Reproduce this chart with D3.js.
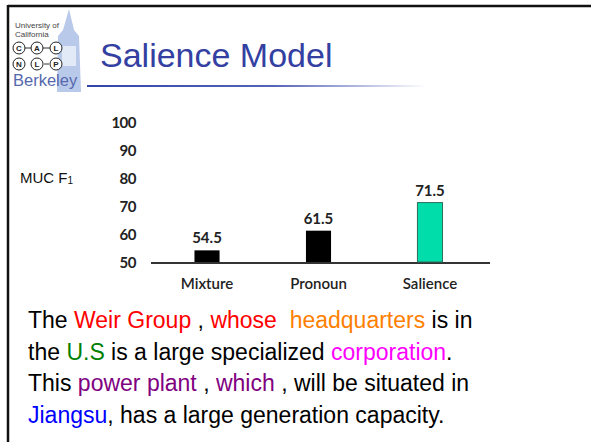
<!DOCTYPE html>
<html>
<head>
<meta charset="utf-8">
<script src="https://cdn.jsdelivr.net/npm/d3@7"></script>
<style>
  body { margin: 0; background: #fff; }
  svg { display: block; }
</style>
</head>
<body>
<svg id="slide"></svg>
<script>
var categories = ["Mixture", "Pronoun", "Salience"];
var values = [54.5, 61.5, 71.5];
var barColors = ["#000000", "#000000", "#00dcaa"];
var yTicks = [50, 60, 70, 80, 90, 100];

var sentence = [
    [["The ", "#000"], ["Weir Group", "#ff0000"], [" , ", "#000"], ["whose", "#ff0000"], ["  ", "#000"], ["headquarters", "#ff8000"], [" is in", "#000"]],
    [["the ", "#000"], ["U.S", "#008000"], [" is a large specialized ", "#000"], ["corporation", "#ff00ff"], [".", "#000"]],
    [["This ", "#000"], ["power plant", "#800080"], [" , ", "#000"], ["which", "#800080"], [" , will be situated in", "#000"]],
    [["Jiangsu", "#0000ff"], [", has a large generation capacity.", "#000"]]
];

var w = 591;
var h = 442;

var svg = d3.select("#slide")
    .attr("width", w)
    .attr("height", h);

// slide frame
svg.append("line")
    .attr("x1", 8).attr("y1", 5).attr("x2", 8).attr("y2", h)
    .attr("stroke", "#111").attr("stroke-width", 2.5);
svg.append("line")
    .attr("x1", 8).attr("y1", 6).attr("x2", w).attr("y2", 6)
    .attr("stroke", "#111").attr("stroke-width", 2.5);

// logo
var logo = svg.append("g");
logo.append("path")
    .attr("d", "M69,9 L74,30 L79,36 L81,92 L57,92 L58,36 L63,30 Z")
    .attr("fill", "#b9c9ea");
logo.append("rect")
    .attr("x", 62).attr("y", 46).attr("width", 14).attr("height", 20)
    .attr("fill", "#e2eaf8");
logo.append("text").text("University of")
    .attr("x", 15).attr("y", 28)
    .attr("font-family", "Liberation Sans, Arial").attr("font-size", "8px").attr("fill", "#444");
logo.append("text").text("California")
    .attr("x", 15).attr("y", 37)
    .attr("font-family", "Liberation Sans, Arial").attr("font-size", "8px").attr("fill", "#444");

var nodes = [
    { t: "C", x: 19, y: 48 }, { t: "A", x: 37, y: 48 }, { t: "L", x: 56, y: 48 },
    { t: "N", x: 19, y: 64 }, { t: "L", x: 37, y: 64 }, { t: "P", x: 56, y: 64 }
];
logo.append("line").attr("x1", 19).attr("y1", 48).attr("x2", 56).attr("y2", 48)
    .attr("stroke", "#333").attr("stroke-width", 1);
logo.append("line").attr("x1", 44).attr("y1", 64).attr("x2", 49).attr("y2", 64)
    .attr("stroke", "#333").attr("stroke-width", 1);
logo.selectAll("circle.node")
    .data(nodes)
    .enter()
    .append("circle")
    .attr("class", "node")
    .attr("cx", function (d) { return d.x; })
    .attr("cy", function (d) { return d.y; })
    .attr("r", 6)
    .attr("fill", "#fff")
    .attr("stroke", "#222")
    .attr("stroke-width", 1);
logo.selectAll("text.node")
    .data(nodes)
    .enter()
    .append("text")
    .attr("class", "node")
    .text(function (d) { return d.t; })
    .attr("x", function (d) { return d.x; })
    .attr("y", function (d) { return d.y + 2.8; })
    .attr("text-anchor", "middle")
    .attr("font-family", "Liberation Sans, Arial")
    .attr("font-size", "8px")
    .attr("font-weight", "bold")
    .attr("fill", "#222");
logo.append("text").text("Berkeley")
    .attr("x", 13).attr("y", 86)
    .attr("font-family", "Liberation Sans, Arial").attr("font-size", "16.5px").attr("fill", "#5668ad");

// title
svg.append("text")
    .text("Salience Model")
    .attr("x", 100).attr("y", 67)
    .attr("font-family", "Liberation Sans, Arial")
    .attr("font-size", "34px")
    .attr("fill", "#3340a2");

var grad = svg.append("defs").append("linearGradient")
    .attr("id", "rule")
    .attr("x1", "0%").attr("x2", "100%");
grad.append("stop").attr("offset", "0%").attr("stop-color", "#3344aa");
grad.append("stop").attr("offset", "55%").attr("stop-color", "#5564b8");
grad.append("stop").attr("offset", "100%").attr("stop-color", "#ffffff");
svg.append("rect")
    .attr("x", 87).attr("y", 85).attr("width", 340).attr("height", 2)
    .attr("fill", "url(#rule)");

// chart
var x = d3.scaleBand()
    .domain(categories)
    .range([151, 486])
    .paddingInner(0.775)
    .paddingOuter(0.39);

var y = d3.scaleLinear()
    .domain([50, 100])
    .range([263, 122.5]);

var chartFont = "Lato, 'Open Sans', sans-serif";

var yAxis = svg.append("g")
    .attr("transform", "translate(136,0)")
    .call(d3.axisLeft(y).tickValues(yTicks).tickSize(0).tickPadding(0));
yAxis.select(".domain").remove();
yAxis.selectAll("text")
    .attr("font-family", chartFont)
    .attr("font-size", "15px")
    .attr("font-weight", "bold")
    .attr("letter-spacing", "-0.5px")
    .attr("fill", "#222");

var xAxis = svg.append("g")
    .attr("transform", "translate(0," + y(50) + ")")
    .call(d3.axisBottom(x).tickSize(0).tickPadding(15).tickSizeOuter(0));
xAxis.select(".domain")
    .attr("d", "M151,0H490")
    .attr("stroke", "#333")
    .attr("stroke-width", 2);
xAxis.selectAll("text")
    .attr("font-family", chartFont)
    .attr("font-size", "15px")
    .attr("font-weight", "600")
    .attr("fill", "#222");

svg.selectAll("rect.bar")
    .data(values)
    .enter()
    .append("rect")
    .attr("class", "bar")
    .attr("x", function (d, i) { return x(categories[i]); })
    .attr("y", function (d) { return y(d); })
    .attr("width", x.bandwidth())
    .attr("height", function (d) { return y(50) - y(d) - 1; })
    .attr("fill", function (d, i) { return barColors[i]; })
    .attr("stroke", function (d, i) { return i === 2 ? "#2c6e5c" : "none"; })
    .attr("stroke-width", 1);

svg.selectAll("text.value")
    .data(values)
    .enter()
    .append("text")
    .attr("class", "value")
    .text(function (d) { return d.toFixed(1); })
    .attr("x", function (d, i) { return x(categories[i]) + x.bandwidth() / 2; })
    .attr("y", function (d) { return y(d) - 7; })
    .attr("text-anchor", "middle")
    .attr("font-family", chartFont)
    .attr("font-size", "15px")
    .attr("font-weight", "bold")
    .attr("fill", "#222");

// y label
var yLabel = svg.append("text")
    .attr("x", 20).attr("y", 183)
    .attr("font-family", "Liberation Sans, Arial")
    .attr("font-size", "15px")
    .attr("fill", "#111");
yLabel.append("tspan").text("MUC F");
yLabel.append("tspan").text("1").attr("font-size", "10px").attr("dy", 1);

// example sentence
var lineY = [328, 360, 391, 423];
sentence.forEach(function (parts, li) {
    var t = svg.append("text")
        .attr("x", 28).attr("y", lineY[li])
        .attr("font-family", "Liberation Sans, Arial")
        .attr("font-size", "23px")
        .style("white-space", "pre");
    parts.forEach(function (p) {
        t.append("tspan").text(p[0]).attr("fill", p[1]);
    });
});
</script>
</body>
</html>
